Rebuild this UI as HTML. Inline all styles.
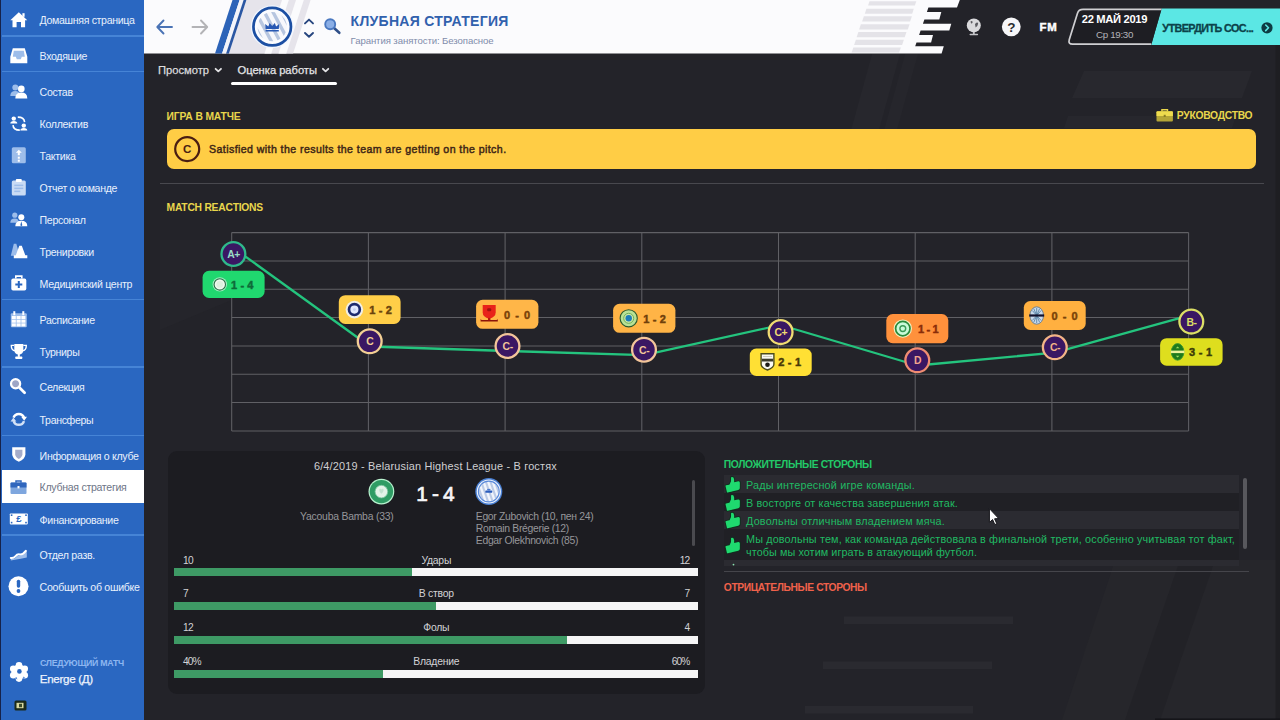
<!DOCTYPE html><html lang="ru"><head><meta charset="utf-8"><title>Клубная стратегия</title><style>html,body{margin:0;padding:0;background:#232329}
#r{position:relative;width:1280px;height:720px;overflow:hidden;background:#232329;font-family:'Liberation Sans',sans-serif}
.t{position:absolute;white-space:nowrap}
svg{position:absolute;left:0;top:0}</style></head><body><div id="r">
<svg width="1280" height="720" viewBox="0 0 1280 720"><polygon points="1084,71 1252,71 1242,98 1072,98" fill="#28282e"/><polygon points="1068,116 1236,116 1232,128 1064,128" fill="#27272d"/><polygon points="872,54 900,54 868,170 840,170" fill="#27272d"/><polygon points="905,54 918,54 886,170 873,170" fill="#26262c"/><rect x="844" y="616.5" width="169" height="7.5" fill="#2a2a30"/><rect x="823" y="661.5" width="169" height="7.5" fill="#2a2a30"/><rect x="805" y="706" width="168" height="7.5" fill="#2a2a30"/><polygon points="1115,560 1280,560 1280,720 1062,720" fill="#26262b"/><polygon points="1180,560 1215,560 1160,720 1125,720" fill="#222227"/><polygon points="160,240 232,240 232,300 160,330" fill="#25252b"/><rect x="1275.5" y="45" width="4.5" height="675" fill="#1e1e22"/><rect x="1155" y="718.4" width="125" height="1.6" fill="#151519"/></svg>
<div style="position:absolute;left:231px;top:81.7px;width:106px;height:3.1px;background:#ffffff;border-radius:1.5px"></div>
<svg width="1280" height="720" viewBox="0 0 1280 720"><polygon fill="#fbfbfd" points="144,0 959.8,0 957,7.5 928.4,7.5 926.9,12 941.3,12 939.3,19.4 924.4,19.4 922.9,23.8 951.3,23.8 949.3,30.4 920.6,30.4 919.1,35 933,35 931.1,42.5 916.5,42.5 915.2,46.3 943.8,46.3 941.6,53.5 144,53.5"/>
<polygon fill="#e4e3e8" points="869.5,1.3 916.3,1.3 914.9,5.6 868.1,5.6"/>
<polygon fill="#e4e3e8" points="866.4,8.8 913.8,8.8 912.2,13.7 864.8,13.7"/>
<polygon fill="#e4e3e8" points="863.9,16.3 911.9,16.3 910.1,21.4 862.1,21.4"/>
<polygon fill="#e4e3e8" points="860.9,24.3 909.6,24.3 907.8,29.4 859.1,29.4"/>
<polygon fill="#e4e3e8" points="858.4,31.9 906.5,31.9 904.7,37.2 856.6,37.2"/>
<polygon fill="#e4e3e8" points="855.9,39.7 903.9,39.7 902.1,45 854.1,45"/>
<polygon fill="#e4e3e8" points="853.4,47.5 900.9,47.5 899.1,52.6 851.6,52.6"/>
<polygon fill="#e6e4eb" points="246.3,0 310.6,0 293.1,53.5 228.8,53.5"/>
<polygon fill="#fbfbfd" points="282,0 288.8,0 271.3,53.5 264.5,53.5"/>
<polygon fill="#fbfbfd" points="296,0 303.8,0 286.3,53.5 278.5,53.5"/>
<polygon fill="#2c63b8" points="232.5,0 239.6,0 222.1,53.5 215.0,53.5"/>
<polygon fill="#f3f4fa" points="239.6,0 243.6,0 226.1,53.5 222.1,53.5"/>
<polygon fill="#2b57a3" points="243.6,0 246.4,0 228.9,53.5 226.1,53.5"/>
<g fill="none" stroke-width="1.9" stroke-linecap="round" stroke-linejoin="round"><path d="M172,27 H157.5 M163.5,20.5 L157.3,27 L163.5,33.5" stroke="#4a73b5"/><path d="M192.5,27 H207 M201,20.5 L207.2,27 L201,33.5" stroke="#b3b3b6"/></g>
<defs><clipPath id="lg"><circle cx="272.2" cy="26.7" r="14.6"/></clipPath></defs>
<circle cx="272.2" cy="26.7" r="21.4" fill="#f1f6ff"/>
<circle cx="272.2" cy="26.7" r="18" fill="#fbfcff"/>
<g clip-path="url(#lg)"><rect x="252.2" y="6.699999999999999" width="40" height="40" fill="#f7f8fc"/><polygon points="226.29999999999998,8.7 230.1,8.7 249.29999999999998,44.7 245.49999999999997,44.7" fill="#b7c6e0"/><polygon points="234.89999999999998,8.7 238.7,8.7 257.9,44.7 254.09999999999997,44.7" fill="#b7c6e0"/><polygon points="243.5,8.7 247.3,8.7 266.5,44.7 262.7,44.7" fill="#b7c6e0"/><polygon points="252.09999999999997,8.7 255.89999999999998,8.7 275.09999999999997,44.7 271.29999999999995,44.7" fill="#b7c6e0"/><polygon points="260.7,8.7 264.5,8.7 283.7,44.7 279.9,44.7" fill="#b7c6e0"/><polygon points="269.3,8.7 273.1,8.7 292.3,44.7 288.5,44.7" fill="#b7c6e0"/><polygon points="277.9,8.7 281.7,8.7 300.9,44.7 297.09999999999997,44.7" fill="#b7c6e0"/><polygon points="286.5,8.7 290.3,8.7 309.5,44.7 305.7,44.7" fill="#b7c6e0"/><polygon points="295.09999999999997,8.7 298.9,8.7 318.09999999999997,44.7 314.29999999999995,44.7" fill="#b7c6e0"/></g>
<circle cx="272.2" cy="26.7" r="18.75" fill="none" stroke="#1c4fa3" stroke-width="2.7"/>
<g fill="#2758b3"><path d="M265.59999999999997,29.099999999999998 L265.2,24.099999999999998 L268.3,26.5 L269.59999999999997,23.099999999999998 L272.2,26.099999999999998 L274.8,23.099999999999998 L276.09999999999997,26.5 L279.2,24.099999999999998 L278.8,29.099999999999998 Z"/><rect x="265.59999999999997" y="30.0" width="13.2" height="1.5"/></g>
<g fill="none" stroke="#27467f" stroke-width="1.9" stroke-linecap="round" stroke-linejoin="round"><path d="M305,23.4 L309,19.6 L313,23.4"/><path d="M305,33 L309,36.8 L313,33"/></g>
<path d="M334,28 L339.3,32.8" stroke="#2f4f88" stroke-width="2.6" stroke-linecap="round"/><circle cx="330.2" cy="24.3" r="5" fill="#8aaee6" stroke="#4a78c0" stroke-width="1.9"/>
<g fill="none" stroke="#e4e4e6" stroke-width="1.8" stroke-linecap="round" stroke-linejoin="round"><path d="M215.6,68.8 L218.3,71.4 L221,68.8"/><path d="M322.9,68.8 L325.6,71.4 L328.3,68.8"/></g>
<circle cx="973.8" cy="25.4" r="7" fill="#d9d9dc"/><path d="M970.5,21.5 q1.5,-1.2 2.2,0.6 q-0.4,2 -1.7,1.2 z M975,24 q2.5,-2.6 3.2,-0.6 q-0.6,3.2 -2.6,4 z" fill="#5a5a60"/><rect x="972.9" y="32" width="1.8" height="2.2" fill="#c4c4c8"/><rect x="969.5" y="33.8" width="8.6" height="1.5" rx="0.7" fill="#c4c4c8"/>
<circle cx="1011.3" cy="26.8" r="9.4" fill="#f6f6f8"/>
<path d="M1161.5,8.6 L1280,8.6 L1280,45 L1151.3,45 Z" fill="#5be7e4"/>
<path d="M1161.5,9.4 L1083,9.4 Q1078.7,9.4 1077.5,13.2 L1069.3,39.5 Q1067.9,44.2 1072.5,44.2 L1151.3,44.2 Z" fill="#1e1e23" stroke="none"/>
<path d="M1161.5,9.4 L1083,9.4 Q1078.7,9.4 1077.5,13.2 L1069.3,39.5 Q1067.9,44.2 1072.5,44.2 L1151.3,44.2" fill="none" stroke="#cfcfd2" stroke-width="1.7"/>
<circle cx="1267" cy="27.8" r="5.6" fill="#0d3b43"/><path d="M1265.7,25 L1268.5,27.8 L1265.7,30.6" fill="none" stroke="#5be7e4" stroke-width="1.6" stroke-linecap="round" stroke-linejoin="round"/></svg>
<span class="t" style="top:12.75px;font-size:14px;line-height:17px;color:#3161ad;font-weight:700;letter-spacing:0.288px;left:350.60px;">КЛУБНАЯ СТРАТЕГИЯ</span>
<span class="t" style="top:34.75px;font-size:9.6px;line-height:12px;color:#7f8cab;font-weight:400;letter-spacing:-0.089px;left:350.60px;">Гарантия занятости: Безопасное</span>
<span class="t" style="top:63.75px;font-size:11.2px;line-height:13px;color:#dcdcde;font-weight:400;letter-spacing:-0.012px;left:158.00px;-webkit-text-stroke:0.25px #dcdcde;">Просмотр</span>
<span class="t" style="top:63.75px;font-size:11.2px;line-height:13px;color:#e6e6e8;font-weight:400;letter-spacing:-0.028px;left:237.50px;-webkit-text-stroke:0.25px #e6e6e8;">Оценка работы</span>
<span class="t" style="top:19.75px;font-size:13.5px;line-height:16px;color:#2a2a30;font-weight:700;left:711.30px;width:600px;text-align:center;">?</span>
<span class="t" style="top:20.25px;font-size:11.4px;line-height:14px;color:#ffffff;font-weight:700;letter-spacing:0.873px;left:1039.40px;-webkit-text-stroke:0.5px #fff;">FM</span>
<span class="t" style="top:12.75px;font-size:11.2px;line-height:13px;color:#ffffff;font-weight:700;letter-spacing:-0.336px;left:1081.80px;">22 МАЙ 2019</span>
<span class="t" style="top:28.75px;font-size:9.8px;line-height:12px;color:#b4b4b8;font-weight:400;letter-spacing:-0.346px;left:1096.00px;">Ср 19:30</span>
<span class="t" style="top:21.75px;font-size:10.8px;line-height:13px;color:#0b424a;font-weight:700;letter-spacing:-0.586px;left:1162.30px;-webkit-text-stroke:0.3px #0b424a;">УТВЕРДИТЬ СОС...</span>
<div style="position:absolute;left:0;top:0;width:144px;height:720px;background:#2a67c1"></div>
<div style="position:absolute;left:0;top:0;width:1.2px;height:720px;background:#16224a"></div>
<div style="position:absolute;left:1.5px;top:35.25px;width:142.5px;height:1.5px;background:#4684d6"></div>
<div style="position:absolute;left:1.5px;top:70.75px;width:142.5px;height:1.5px;background:#4684d6"></div>
<div style="position:absolute;left:1.5px;top:298.75px;width:142.5px;height:1.5px;background:#4684d6"></div>
<div style="position:absolute;left:1.5px;top:366.25px;width:142.5px;height:1.5px;background:#4684d6"></div>
<div style="position:absolute;left:1.5px;top:434.95px;width:142.5px;height:1.5px;background:#4684d6"></div>
<div style="position:absolute;left:1.5px;top:534.25px;width:142.5px;height:1.5px;background:#4684d6"></div>
<div style="position:absolute;left:1.5px;top:470.3px;width:142.5px;height:33.2px;background:#ffffff"></div>
<svg width="1280" height="720" viewBox="0 0 1280 720"><g transform="translate(18.8,19.8)" fill="#ffffff" stroke="none"><path d="M-8.5,0.5 L0,-7.5 L8.5,0.5 L6.3,0.5 L6.3,7.5 L2.2,7.5 L2.2,2.3 L-2.2,2.3 L-2.2,7.5 L-6.3,7.5 L-6.3,0.5 Z"/><rect x="3.6" y="-6.6" width="2.2" height="3.6"/></g>
<g transform="translate(18.8,55.7)" fill="#ffffff" stroke="none"><path d="M-6,-7.5 L6,-7.5 L8.5,1 L8.5,7.5 L-8.5,7.5 L-8.5,1 Z"/><path d="M-5,-5 L5,-5 L6,1 L3,1 L2,3.5 L-2,3.5 L-3,1 L-6,1 Z" fill="#9dbdea"/></g>
<g transform="translate(18.8,91.4)" fill="#ffffff" stroke="none"><g fill="#9dbdea"><circle cx="-3.5" cy="-4" r="3"/><path d="M-8.5,4.5 Q-8.5,-0.5 -3.5,-0.5 Q1,-0.5 1,4.5 Z"/></g><circle cx="2.5" cy="-2.5" r="3.3"/><path d="M-3.5,7 Q-3.5,1.2 2.5,1.2 Q8.5,1.2 8.5,7 Z"/></g>
<g transform="translate(18.8,123.60000000000001)" fill="#ffffff" stroke="none"><circle cx="-5" cy="-5" r="2.2"/><path d="M-8.5,0 Q-8.5,-2.6 -5,-2.6 Q-1.5,-2.6 -1.5,0 Z"/><circle cx="5" cy="2" r="2.2"/><path d="M1.5,7 Q1.5,4.4 5,4.4 Q8.5,4.4 8.5,7 Z"/><path d="M-1,-6.5 Q5.5,-6.5 5.8,-1.5" fill="none" stroke="#fff" stroke-width="1.6"/><path d="M1,6.5 Q-5.5,6.5 -5.8,1.5" fill="none" stroke="#fff" stroke-width="1.6"/></g>
<g transform="translate(18.8,155.2)" fill="#ffffff" stroke="none"><rect x="-7" y="-8" width="14" height="16" rx="1.5" fill="#9dbdea"/><path d="M0,-5.5 L3,-2.5 L1,-2.5 L1,0 L-1,0 L-1,-2.5 L-3,-2.5 Z"/><rect x="-1" y="1.5" width="2" height="2"/><rect x="-1" y="4.5" width="2" height="2"/></g>
<g transform="translate(18.8,187.6)" fill="#ffffff" stroke="none"><rect x="-7" y="-7" width="14" height="15" rx="1.5" fill="#c9dbf4"/><rect x="-3" y="-8.5" width="6" height="3" rx="1"/><g fill="#9dbdea"><rect x="-4.5" y="-3" width="9" height="1.5"/><rect x="-4.5" y="0" width="9" height="1.5"/><rect x="-4.5" y="3" width="6" height="1.5"/></g></g>
<g transform="translate(18.8,219.7)" fill="#ffffff" stroke="none"><g fill="#9dbdea"><circle cx="-4" cy="-4.5" r="2.6"/><path d="M-8.5,3 Q-8.5,-1.3 -4,-1.3 Q0,-1.3 0,3 Z"/></g><circle cx="2.5" cy="-2.5" r="3"/><path d="M-3.5,6.5 Q-3.5,1 2.5,1 Q8.5,1 8.5,6.5 Z"/><path d="M2.5,1.5 L3.5,5.5 L2.5,6.5 L1.5,5.5 Z" fill="#2a67c1"/></g>
<g transform="translate(18.8,251.7)" fill="#ffffff" stroke="none"><path d="M-5,-8 L-2.5,-8 L1,4 L-8,4 Z" fill="#9dbdea"/><path d="M0.5,-6 L3,-6 L6.5,3.5 L8.5,3.5 L8.5,6.5 L-5,6.5 L-5,3.5 L-3,3.5 Z"/></g>
<g transform="translate(18.8,283.59999999999997)" fill="#ffffff" stroke="none"><path d="M-3,-5 L-3,-7.5 L3,-7.5 L3,-5" fill="none" stroke="#fff" stroke-width="1.6"/><rect x="-7.5" y="-5" width="15" height="12" rx="1.8"/><path d="M-1,-2.5 H1 V0 H3.5 V2 H1 V4.5 H-1 V2 H-3.5 V0 H-1 Z" fill="#2a67c1"/></g>
<g transform="translate(18.8,319.2)" fill="#ffffff" stroke="none"><rect x="-8" y="-6" width="16" height="14" rx="1" fill="#9dbdea"/><rect x="-5.5" y="-8" width="2" height="4"/><rect x="3.5" y="-8" width="2" height="4"/><rect x="-7.0" y="-3.2" width="4" height="3"/><rect x="-2.2" y="-3.2" width="4" height="3"/><rect x="2.6" y="-3.2" width="4" height="3"/><rect x="-7.0" y="0.5" width="4" height="3"/><rect x="-2.2" y="0.5" width="4" height="3"/><rect x="2.6" y="0.5" width="4" height="3"/><rect x="-7.0" y="4.2" width="4" height="3"/><rect x="-2.2" y="4.2" width="4" height="3"/><rect x="2.6" y="4.2" width="4" height="3"/></g>
<g transform="translate(18.8,351.4)" fill="#ffffff" stroke="none"><path d="M-4.5,-7.5 H4.5 V-2 Q4.5,3 0,3 Q-4.5,3 -4.5,-2 Z"/><path d="M-4.5,-6 H-7.5 Q-7.5,-1 -3.5,-0.5" fill="none" stroke="#fff" stroke-width="1.4"/><path d="M4.5,-6 H7.5 Q7.5,-1 3.5,-0.5" fill="none" stroke="#fff" stroke-width="1.4"/><rect x="-1" y="2.5" width="2" height="3"/><rect x="-3.5" y="5.2" width="7" height="2.3" rx="0.6"/></g>
<g transform="translate(18.8,386.7)" fill="#ffffff" stroke="none"><circle cx="-3.2" cy="-3" r="4.6" fill="#9ea6c6" stroke="#fff" stroke-width="2.2"/><path d="M0.8,1 L5.8,6" stroke="#fff" stroke-width="2.8" stroke-linecap="round"/></g>
<g transform="translate(18.8,419.2)" fill="#ffffff" stroke="none"><path d="M-5.2,-1.6 A5.5,5.5 0 0 1 5.2,-1.6" fill="none" stroke="#fff" stroke-width="2.5"/><path d="M2.4,-2.4 L8.2,-2.4 L5.4,1.6 Z"/><path d="M5.2,1.9 A5.5,5.5 0 0 1 -5.2,1.9" fill="none" stroke="#d3e1f6" stroke-width="2.5"/><path d="M-2.4,2.4 L-8.2,2.4 L-5.4,-1.6 Z" fill="#d3e1f6"/></g>
<g transform="translate(18.8,455.2)" fill="#ffffff" stroke="none"><path d="M-6.6,-8 H6.6 V-1 Q6.6,3.5 0,6.5 Q-6.6,3.5 -6.6,-1 Z"/><path d="M-3.6,-5.5 H3.6 V-1 Q3.6,1.8 0,3.8 Q-3.6,1.8 -3.6,-1 Z" fill="#a4acca"/></g>
<g transform="translate(18.5,487.0)" fill="#2f66bd" stroke="none"><path d="M-2.5,-4 L-2.5,-6 L2.5,-6 L2.5,-4" fill="none" stroke="#2f66bd" stroke-width="1.5"/><rect x="-8" y="-4.5" width="16" height="11.5" rx="1" fill="#7ea6de"/><path d="M-8,-3.5 Q-8,-4.5 -7,-4.5 H7 Q8,-4.5 8,-3.5 V0.5 H-8 Z"/><rect x="-1" y="-1" width="2" height="2.4" fill="#fff"/></g>
<g transform="translate(18.8,518.9000000000001)" fill="#ffffff" stroke="none"><rect x="-9" y="-5.5" width="18" height="11" rx="0.8"/><g fill="#2a67c1"><rect x="-8" y="-4.5" width="1.6" height="1.6"/><rect x="6.4" y="-4.5" width="1.6" height="1.6"/><rect x="-8" y="2.9" width="1.6" height="1.6"/><rect x="6.4" y="2.9" width="1.6" height="1.6"/></g><text x="0" y="3.4" font-size="9.5" font-weight="700" text-anchor="middle" fill="#2a67c1" font-family="Liberation Sans, sans-serif">£</text></g>
<g transform="translate(18.8,554.4000000000001)" fill="#ffffff" stroke="none"><path d="M-8,4 L-4,4 Q-2,1 1,1 Q4,1 6,-3 L8,-4 L8,3 Q4,4 -8,6 Z" fill="#9dbdea"/><path d="M-8,3.5 Q-5,3.8 -3.5,2 Q-1.5,-0.5 1,0 Q4,0.5 7,-3.5" fill="none" stroke="#fff" stroke-width="2" stroke-linecap="round"/></g>
<g transform="translate(18.5,586.2)" fill="#ffffff" stroke="none"><circle r="10"/><rect x="-1.7" y="-6.5" width="3.4" height="8" rx="1.6" fill="#2a67c1"/><circle cy="4.8" r="1.9" fill="#2a67c1"/></g>
<g transform="translate(19,672)" fill="#ffffff" stroke="none"><circle r="7.6"/><circle cx="0.00" cy="-6.60" r="3.3"/><circle cx="5.72" cy="-3.30" r="3.3"/><circle cx="5.72" cy="3.30" r="3.3"/><circle cx="0.00" cy="6.60" r="3.3"/><circle cx="-5.72" cy="3.30" r="3.3"/><circle cx="-5.72" cy="-3.30" r="3.3"/><circle cx="0.4" cy="-0.6" r="2.3" fill="#2a67c1"/><path d="M-4.6,6.2 L-2.4,5 L-1.6,7.4 Z M3.4,6.6 L4.6,4.6 L6.2,6 Z" fill="#5f8fd6"/></g>
<rect x="14.5" y="700.5" width="12" height="10" rx="1.5" fill="#1b2a1b"/><rect x="16.5" y="702.8" width="7" height="5.4" fill="#d8d9a0"/><rect x="19" y="703.8" width="3" height="3.4" fill="#3b4a2a"/></svg>
<span class="t" style="top:13.75px;font-size:10.6px;line-height:13px;color:#e8f0fc;font-weight:400;letter-spacing:-0.341px;left:39.60px;">Домашняя страница</span>
<span class="t" style="top:49.75px;font-size:10.6px;line-height:13px;color:#e8f0fc;font-weight:400;letter-spacing:-0.355px;left:39.60px;">Входящие</span>
<span class="t" style="top:85.75px;font-size:10.6px;line-height:13px;color:#e8f0fc;font-weight:400;letter-spacing:-0.331px;left:39.60px;">Состав</span>
<span class="t" style="top:117.75px;font-size:10.6px;line-height:13px;color:#e8f0fc;font-weight:400;letter-spacing:-0.322px;left:39.60px;">Коллектив</span>
<span class="t" style="top:149.75px;font-size:10.6px;line-height:13px;color:#e8f0fc;font-weight:400;letter-spacing:-0.309px;left:39.60px;">Тактика</span>
<span class="t" style="top:181.75px;font-size:10.6px;line-height:13px;color:#e8f0fc;font-weight:400;letter-spacing:-0.335px;left:39.60px;">Отчет о команде</span>
<span class="t" style="top:213.75px;font-size:10.6px;line-height:13px;color:#e8f0fc;font-weight:400;letter-spacing:-0.344px;left:39.60px;">Персонал</span>
<span class="t" style="top:245.75px;font-size:10.6px;line-height:13px;color:#e8f0fc;font-weight:400;letter-spacing:-0.325px;left:39.60px;">Тренировки</span>
<span class="t" style="top:277.75px;font-size:10.6px;line-height:13px;color:#e8f0fc;font-weight:400;letter-spacing:-0.305px;left:39.60px;">Медицинский центр</span>
<span class="t" style="top:313.75px;font-size:10.6px;line-height:13px;color:#e8f0fc;font-weight:400;letter-spacing:-0.331px;left:39.60px;">Расписание</span>
<span class="t" style="top:345.75px;font-size:10.6px;line-height:13px;color:#e8f0fc;font-weight:400;letter-spacing:-0.342px;left:39.60px;">Турниры</span>
<span class="t" style="top:380.75px;font-size:10.6px;line-height:13px;color:#e8f0fc;font-weight:400;letter-spacing:-0.337px;left:39.60px;">Селекция</span>
<span class="t" style="top:413.75px;font-size:10.6px;line-height:13px;color:#e8f0fc;font-weight:400;letter-spacing:-0.358px;left:39.60px;">Трансферы</span>
<span class="t" style="top:449.75px;font-size:10.6px;line-height:13px;color:#e8f0fc;font-weight:400;letter-spacing:-0.325px;left:39.60px;">Информация о клубе</span>
<span class="t" style="top:480.75px;font-size:10.6px;line-height:13px;color:#6e7587;font-weight:400;letter-spacing:-0.307px;left:39.60px;">Клубная стратегия</span>
<span class="t" style="top:513.75px;font-size:10.6px;line-height:13px;color:#e8f0fc;font-weight:400;letter-spacing:-0.338px;left:39.60px;">Финансирование</span>
<span class="t" style="top:548.75px;font-size:10.6px;line-height:13px;color:#e8f0fc;font-weight:400;letter-spacing:-0.302px;left:39.60px;">Отдел разв.</span>
<span class="t" style="top:580.75px;font-size:10.6px;line-height:13px;color:#e8f0fc;font-weight:400;letter-spacing:-0.299px;left:39.60px;">Сообщить об ошибке</span>
<span class="t" style="top:657.75px;font-size:8.8px;line-height:11px;color:#8db6f0;font-weight:700;letter-spacing:-0.282px;left:40.00px;">СЛЕДУЮЩИЙ МАТЧ</span>
<span class="t" style="top:672.25px;font-size:11.6px;line-height:14px;color:#eef4fd;font-weight:400;letter-spacing:-0.319px;left:39.80px;-webkit-text-stroke:0.25px #eef4fd;">Energe (Д)</span>
<div style="position:absolute;left:166.6px;top:128.5px;width:1089px;height:40.1px;background:#ffcd45;border-radius:7px"></div>
<div style="position:absolute;left:159.6px;top:183.2px;width:1104px;height:1.2px;background:#48484e"></div>
<svg width="1280" height="720" viewBox="0 0 1280 720"><g transform="translate(1164.7,115.4)"><path d="M-2.8,-3.8 V-5.6 H2.8 V-3.8" fill="none" stroke="#e9d64c" stroke-width="1.4"/><rect x="-8.2" y="-4.2" width="16.4" height="10.2" rx="1" fill="#b5a637"/><path d="M-8.2,-3.2 Q-8.2,-4.2 -7.2,-4.2 H7.2 Q8.2,-4.2 8.2,-3.2 V0.6 H-8.2 Z" fill="#efdc4e"/><rect x="-1" y="-0.6" width="2" height="2.2" fill="#8c7f22"/></g>
<circle cx="187.2" cy="149.1" r="12" fill="none" stroke="#4a1e12" stroke-width="2.2"/>
<g stroke="#606065" stroke-width="1.05"><line x1="231.70" y1="232.60" x2="231.70" y2="430.91"/><line x1="231.70" y1="232.60" x2="1188.60" y2="232.60"/><line x1="368.40" y1="232.60" x2="368.40" y2="430.91"/><line x1="231.70" y1="260.93" x2="1188.60" y2="260.93"/><line x1="505.10" y1="232.60" x2="505.10" y2="430.91"/><line x1="231.70" y1="289.26" x2="1188.60" y2="289.26"/><line x1="641.80" y1="232.60" x2="641.80" y2="430.91"/><line x1="231.70" y1="317.59" x2="1188.60" y2="317.59"/><line x1="778.50" y1="232.60" x2="778.50" y2="430.91"/><line x1="231.70" y1="345.92" x2="1188.60" y2="345.92"/><line x1="915.20" y1="232.60" x2="915.20" y2="430.91"/><line x1="231.70" y1="374.25" x2="1188.60" y2="374.25"/><line x1="1051.90" y1="232.60" x2="1051.90" y2="430.91"/><line x1="231.70" y1="402.58" x2="1188.60" y2="402.58"/><line x1="1188.60" y1="232.60" x2="1188.60" y2="430.91"/><line x1="231.70" y1="430.91" x2="1188.60" y2="430.91"/></g>
<polyline fill="none" stroke="#24c47e" stroke-width="2.3" stroke-linejoin="round" points="233,247.6 370,346.5 507.5,351 644,355.1 780.6,325 917.3,365.5 1054.8,352.6 1191.3,314.8"/>
<rect x="202.6" y="270.8" width="62.0" height="27.2" rx="6.5" fill="#20d86f"/>
<g transform="translate(219.8,284.4)"><circle r="7.2" fill="#9cf0bf"/><circle r="5.7" fill="#eef8ee" stroke="#2c6e48" stroke-width="1.1"/><circle r="3.4" fill="#ddf0df"/></g>
<rect x="338.8" y="295.2" width="61.8" height="28.8" rx="6.5" fill="#ffce48"/>
<g transform="translate(354.4,309.6)"><circle r="8.8" fill="#f1efe6"/><circle r="5.4" fill="#e2e9ff" stroke="#1d2a6e" stroke-width="2.7"/><circle r="1.4" fill="#c4cff0"/></g>
<rect x="476.1" y="299.8" width="62.3" height="29.0" rx="6.5" fill="#ffb648"/>
<g transform="translate(489.2,314.3)"><path d="M-6.5,-9.3 H6.5 V-2 Q6.5,3 0,4.4 Q-6.5,3 -6.5,-2 Z" fill="#e8221a"/><rect x="-2" y="-6" width="4" height="3" rx="1" fill="#a01210"/><path d="M-8.6,4.4 Q-8.4,5.6 -7,5.6 H7 Q8.4,5.6 8.6,4.4 L8.6,7.3 H-8.6 Z" fill="#8c1408"/><rect x="-1.2" y="3.6" width="2.4" height="2.4" fill="#b41a10"/></g>
<rect x="613.1" y="303.8" width="62.3" height="29.0" rx="6.5" fill="#ffb446"/>
<g transform="translate(628.7,318.3)"><circle r="8.6" fill="#b9e296" stroke="#2b5a2c" stroke-width="1.1"/><circle r="5" fill="#cdeaa4" stroke="#6fae5c" stroke-width="1"/><circle r="3.2" fill="#1c7cba"/></g>
<rect x="749.8" y="348.5" width="61.9" height="27.4" rx="6.5" fill="#ffe034"/>
<g transform="translate(767.5,362.2)"><path d="M-6.4,-8.4 H6.4 V2 Q6.4,5.4 0,7.8 Q-6.4,5.4 -6.4,2 Z" fill="#fafaf4" stroke="#4c4c1c" stroke-width="1.4"/><rect x="-5.6" y="-3.5" width="11.2" height="2.8" fill="#3c3c2c"/><rect x="-4.6" y="-6.2" width="9.2" height="0.9" fill="#c8c8b8"/><circle cy="2.6" r="2.3" fill="#1c1c18"/></g>
<rect x="886.3" y="314" width="62.0" height="29.2" rx="6.5" fill="#ff913c"/>
<g transform="translate(902.8,328.6)"><circle r="9.2" fill="#f3efc0"/><circle r="7.2" fill="#c9fad9" stroke="#2a8a3c" stroke-width="1.7"/><circle r="2.9" fill="none" stroke="#3a9a58" stroke-width="1.4"/></g>
<rect x="1023.8" y="301" width="61.9" height="29.0" rx="6.5" fill="#ffb040"/>
<g transform="translate(1036.7,315.5)"><ellipse rx="6.8" ry="8.7" fill="#c9d9ec" stroke="#6a7a8a" stroke-width="0.9"/><path d="M-4.4,-5 L4.4,5 M4.4,-5 L-4.4,5 M0,-7.6 V7.6 M-3,-7 L3,7 M3,-7 L-3,7" stroke="#5a86a8" stroke-width="0.9"/><rect x="-7.5" y="-1.1" width="15" height="2.2" fill="#12122e"/></g>
<rect x="1160.1" y="338.2" width="62.5" height="27.5" rx="6.5" fill="#dede1e"/>
<g transform="translate(1177.6,351.9)"><ellipse rx="6.3" ry="8.3" fill="#1f7a1c" stroke="#3b9a2c" stroke-width="0.9"/><path d="M-1.8,-3.6 L0,-5.4 L1.8,-3.6 Z M-1.8,3.8 L0,5.6 L1.8,3.8 Z" fill="#9be060"/><rect x="-6.8" y="-1.3" width="13.6" height="2.5" fill="#eef29a"/></g>
<circle cx="233.4" cy="254" r="11.9" fill="#3a1763" stroke="#2fb98b" stroke-width="2.3"/>
<circle cx="369.7" cy="341.3" r="11.9" fill="#3a1763" stroke="#f3cf94" stroke-width="2.3"/>
<circle cx="507.5" cy="346" r="11.9" fill="#3a1763" stroke="#f3c59a" stroke-width="2.3"/>
<circle cx="644" cy="349.7" r="11.9" fill="#3a1763" stroke="#f3c59a" stroke-width="2.3"/>
<circle cx="780.6" cy="332.1" r="11.9" fill="#3a1763" stroke="#f0dc72" stroke-width="2.3"/>
<circle cx="917.3" cy="360.3" r="11.9" fill="#3a1763" stroke="#f08c72" stroke-width="2.3"/>
<circle cx="1054.8" cy="347.3" r="11.9" fill="#3a1763" stroke="#f3b487" stroke-width="2.3"/>
<circle cx="1191.3" cy="321.6" r="11.9" fill="#3a1763" stroke="#dcdf66" stroke-width="2.3"/></svg>
<span class="t" style="top:110.75px;font-size:10.3px;line-height:12px;color:#e9d64c;font-weight:700;letter-spacing:-0.142px;left:166.60px;">ИГРА В МАТЧЕ</span>
<span class="t" style="top:109.75px;font-size:10.3px;line-height:12px;color:#e9d64c;font-weight:700;letter-spacing:-0.271px;left:1176.80px;">РУКОВОДСТВО</span>
<span class="t" style="top:142.25px;font-size:11.6px;line-height:14px;color:#4a1e12;font-weight:700;left:-112.80px;width:600px;text-align:center;">C</span>
<span class="t" style="top:142.75px;font-size:10.6px;line-height:13px;color:#3e2616;font-weight:400;letter-spacing:0.417px;left:209.00px;-webkit-text-stroke:0.45px #3e2616;">Satisfied with the results the team are getting on the pitch.</span>
<span class="t" style="top:201.75px;font-size:10.3px;line-height:12px;color:#e9d64c;font-weight:700;letter-spacing:-0.241px;left:166.60px;">MATCH REACTIONS</span>
<span class="t" style="top:278.75px;font-size:11px;line-height:13px;color:#0e6a38;font-weight:700;letter-spacing:0.117px;left:231.00px;-webkit-text-stroke:0.45px #0e6a38;">1 - 4</span>
<span class="t" style="top:303.75px;font-size:11px;line-height:13px;color:#6a430c;font-weight:700;letter-spacing:0.177px;left:369.20px;-webkit-text-stroke:0.45px #6a430c;">1 - 2</span>
<span class="t" style="top:308.75px;font-size:11px;line-height:13px;color:#7a4208;font-weight:700;letter-spacing:1.057px;left:504.00px;-webkit-text-stroke:0.45px #7a4208;">0 - 0</span>
<span class="t" style="top:312.75px;font-size:11px;line-height:13px;color:#70400a;font-weight:700;letter-spacing:0.177px;left:643.20px;-webkit-text-stroke:0.45px #70400a;">1 - 2</span>
<span class="t" style="top:355.75px;font-size:11px;line-height:13px;color:#4a3a08;font-weight:700;letter-spacing:0.177px;left:778.30px;-webkit-text-stroke:0.45px #4a3a08;">2 - 1</span>
<span class="t" style="top:322.75px;font-size:11px;line-height:13px;color:#8a2c08;font-weight:700;letter-spacing:-0.363px;left:918.10px;-webkit-text-stroke:0.45px #8a2c08;">1 - 1</span>
<span class="t" style="top:309.75px;font-size:11px;line-height:13px;color:#7a4208;font-weight:700;letter-spacing:1.077px;left:1051.40px;-webkit-text-stroke:0.45px #7a4208;">0 - 0</span>
<span class="t" style="top:345.75px;font-size:11px;line-height:13px;color:#3e3e08;font-weight:700;letter-spacing:0.297px;left:1188.90px;-webkit-text-stroke:0.45px #3e3e08;">3 - 1</span>
<span class="t" style="top:248.75px;font-size:10.4px;line-height:12px;color:#9adcc6;font-weight:700;left:-66.40px;width:600px;text-align:center;letter-spacing:-0.4px;">A+</span>
<span class="t" style="top:335.75px;font-size:10.4px;line-height:12px;color:#f3cf94;font-weight:700;left:69.90px;width:600px;text-align:center;letter-spacing:-0.4px;">C</span>
<span class="t" style="top:340.75px;font-size:10.4px;line-height:12px;color:#f3c59a;font-weight:700;left:207.70px;width:600px;text-align:center;letter-spacing:-0.4px;">C-</span>
<span class="t" style="top:344.75px;font-size:10.4px;line-height:12px;color:#f3c59a;font-weight:700;left:344.20px;width:600px;text-align:center;letter-spacing:-0.4px;">C-</span>
<span class="t" style="top:326.75px;font-size:10.4px;line-height:12px;color:#f0dc72;font-weight:700;left:480.80px;width:600px;text-align:center;letter-spacing:-0.4px;">C+</span>
<span class="t" style="top:354.75px;font-size:10.4px;line-height:12px;color:#f3a58e;font-weight:700;left:617.50px;width:600px;text-align:center;letter-spacing:-0.4px;">D</span>
<span class="t" style="top:341.75px;font-size:10.4px;line-height:12px;color:#f3b487;font-weight:700;left:755.00px;width:600px;text-align:center;letter-spacing:-0.4px;">C-</span>
<span class="t" style="top:316.75px;font-size:10.4px;line-height:12px;color:#dcdf66;font-weight:700;left:891.50px;width:600px;text-align:center;letter-spacing:-0.4px;">B-</span>
<div style="position:absolute;left:167.6px;top:450.5px;width:537.6px;height:243.8px;background:#1c1c21;border-radius:9px"></div>
<div style="position:absolute;left:691.6px;top:480px;width:3.2px;height:66px;background:#4a4a4f;border-radius:1.6px"></div>
<div style="position:absolute;left:173.6px;top:568.1px;width:524.5px;height:8.2px;background:#f5f5f6"></div>
<div style="position:absolute;left:173.6px;top:568.1px;width:238.4px;height:8.2px;background:#3e9a65"></div>
<div style="position:absolute;left:173.6px;top:602.1px;width:524.5px;height:8.2px;background:#f5f5f6"></div>
<div style="position:absolute;left:173.6px;top:602.1px;width:262.2px;height:8.2px;background:#3e9a65"></div>
<div style="position:absolute;left:173.6px;top:635.8px;width:524.5px;height:8.2px;background:#f5f5f6"></div>
<div style="position:absolute;left:173.6px;top:635.8px;width:393.4px;height:8.2px;background:#3e9a65"></div>
<div style="position:absolute;left:173.6px;top:669.5px;width:524.5px;height:8.2px;background:#f5f5f6"></div>
<div style="position:absolute;left:173.6px;top:669.5px;width:209.8px;height:8.2px;background:#3e9a65"></div>
<div style="position:absolute;left:723.8px;top:475.2px;width:515.4px;height:17.8px;background:#2b2b31"></div>
<div style="position:absolute;left:723.8px;top:493px;width:515.4px;height:18.2px;background:#202025"></div>
<div style="position:absolute;left:723.8px;top:511.2px;width:515.4px;height:17.7px;background:#2b2b31"></div>
<div style="position:absolute;left:723.8px;top:528.9px;width:515.4px;height:30.9px;background:#202025"></div>
<div style="position:absolute;left:723.8px;top:559.8px;width:515.4px;height:5.8px;background:#2b2b31"></div>
<div style="position:absolute;left:1242.8px;top:477.8px;width:4px;height:71px;background:#58585d;border-radius:2px"></div>
<div style="position:absolute;left:723.8px;top:570.5px;width:525.4px;height:1.2px;background:#45454b"></div>
<svg width="1280" height="720" viewBox="0 0 1280 720"><g transform="translate(381.4,491.6)"><circle r="12.9" fill="#b9f3d0"/><circle r="11.7" fill="#2f9c64"/><circle r="6.3" fill="#e3f3e8"/><circle r="6.3" fill="none" stroke="#7cc6a0" stroke-width="0.8"/><path d="M-2.2,-1.6 Q-2.2,-2.8 -1.1,-2.8 Q0,-2.8 0,-1.8 Q0,-2.8 1.1,-2.8 Q2.2,-2.8 2.2,-1.6 Q2.2,0.4 0,2.2 Q-2.2,0.4 -2.2,-1.6 Z" fill="#c3e2d0"/></g>
<defs><clipPath id="lg2"><circle r="9.9"/></clipPath></defs><g transform="translate(488.8,491.5)"><circle r="13.5" fill="#4a80d4"/><circle r="12.1" fill="#eef3fc"/><g clip-path="url(#lg2)"><rect x="-12" y="-12" width="24" height="24" fill="#f1f5fc"/><polygon points="-27.8,-12 -25.6,-12 -17.4,12 -19.6,12" fill="#bccbe6"/><polygon points="-23.2,-12 -21.0,-12 -12.799999999999999,12 -14.999999999999998,12" fill="#bccbe6"/><polygon points="-18.599999999999998,-12 -16.4,-12 -8.2,12 -10.399999999999999,12" fill="#bccbe6"/><polygon points="-14.0,-12 -11.799999999999999,-12 -3.5999999999999996,12 -5.799999999999999,12" fill="#bccbe6"/><polygon points="-9.399999999999999,-12 -7.199999999999999,-12 1.0,12 -1.1999999999999997,12" fill="#bccbe6"/><polygon points="-4.8,-12 -2.6,-12 5.6,12 3.4,12" fill="#bccbe6"/><polygon points="-0.20000000000000018,-12 1.9999999999999996,-12 10.2,12 8.0,12" fill="#bccbe6"/><polygon points="4.3999999999999995,-12 6.6,-12 14.799999999999999,12 12.6,12" fill="#bccbe6"/><polygon points="9.0,-12 11.2,-12 19.4,12 17.2,12" fill="#bccbe6"/><polygon points="13.599999999999998,-12 15.799999999999999,-12 24.0,12 21.799999999999997,12" fill="#bccbe6"/><polygon points="18.2,-12 20.4,-12 28.6,12 26.4,12" fill="#bccbe6"/></g><circle r="10.4" fill="none" stroke="#5a8ada" stroke-width="1.1"/><rect x="-3.4" y="-0.9" width="6.8" height="2.2" rx="0.6" fill="#2a5cbc"/><rect x="-1.6" y="-2.6" width="3.2" height="1.4" fill="#4a7ad0"/></g>
<g transform="translate(732.5,484.3) rotate(-13)"><g fill="#10301f" stroke="#10301f" stroke-width="1.8" stroke-linejoin="round"><rect x="-7.2" y="-0.4" width="4.6" height="7.4" rx="0.7"/><path d="M-3.4,0.2 L-0.8,-3.2 L0.2,-7.2 Q2.9,-7.6 2.7,-4.6 L2.1,-1.6 L6.4,-1.6 Q7.9,-1.4 7.5,0.2 L6.2,5.6 Q5.8,6.9 4.3,6.9 L-3.4,6.9 Z"/></g><g fill="#1fd96f"><rect x="-7.2" y="-0.4" width="4.6" height="7.4" rx="0.7"/><path d="M-3.4,0.2 L-0.8,-3.2 L0.2,-7.2 Q2.9,-7.6 2.7,-4.6 L2.1,-1.6 L6.4,-1.6 Q7.9,-1.4 7.5,0.2 L6.2,5.6 Q5.8,6.9 4.3,6.9 L-3.4,6.9 Z"/></g></g>
<g transform="translate(732.5,502.4) rotate(-13)"><g fill="#10301f" stroke="#10301f" stroke-width="1.8" stroke-linejoin="round"><rect x="-7.2" y="-0.4" width="4.6" height="7.4" rx="0.7"/><path d="M-3.4,0.2 L-0.8,-3.2 L0.2,-7.2 Q2.9,-7.6 2.7,-4.6 L2.1,-1.6 L6.4,-1.6 Q7.9,-1.4 7.5,0.2 L6.2,5.6 Q5.8,6.9 4.3,6.9 L-3.4,6.9 Z"/></g><g fill="#1fd96f"><rect x="-7.2" y="-0.4" width="4.6" height="7.4" rx="0.7"/><path d="M-3.4,0.2 L-0.8,-3.2 L0.2,-7.2 Q2.9,-7.6 2.7,-4.6 L2.1,-1.6 L6.4,-1.6 Q7.9,-1.4 7.5,0.2 L6.2,5.6 Q5.8,6.9 4.3,6.9 L-3.4,6.9 Z"/></g></g>
<g transform="translate(732.5,520) rotate(-13)"><g fill="#10301f" stroke="#10301f" stroke-width="1.8" stroke-linejoin="round"><rect x="-7.2" y="-0.4" width="4.6" height="7.4" rx="0.7"/><path d="M-3.4,0.2 L-0.8,-3.2 L0.2,-7.2 Q2.9,-7.6 2.7,-4.6 L2.1,-1.6 L6.4,-1.6 Q7.9,-1.4 7.5,0.2 L6.2,5.6 Q5.8,6.9 4.3,6.9 L-3.4,6.9 Z"/></g><g fill="#1fd96f"><rect x="-7.2" y="-0.4" width="4.6" height="7.4" rx="0.7"/><path d="M-3.4,0.2 L-0.8,-3.2 L0.2,-7.2 Q2.9,-7.6 2.7,-4.6 L2.1,-1.6 L6.4,-1.6 Q7.9,-1.4 7.5,0.2 L6.2,5.6 Q5.8,6.9 4.3,6.9 L-3.4,6.9 Z"/></g></g>
<g transform="translate(732.5,545) rotate(-13)"><g fill="#10301f" stroke="#10301f" stroke-width="1.8" stroke-linejoin="round"><rect x="-7.2" y="-0.4" width="4.6" height="7.4" rx="0.7"/><path d="M-3.4,0.2 L-0.8,-3.2 L0.2,-7.2 Q2.9,-7.6 2.7,-4.6 L2.1,-1.6 L6.4,-1.6 Q7.9,-1.4 7.5,0.2 L6.2,5.6 Q5.8,6.9 4.3,6.9 L-3.4,6.9 Z"/></g><g fill="#1fd96f"><rect x="-7.2" y="-0.4" width="4.6" height="7.4" rx="0.7"/><path d="M-3.4,0.2 L-0.8,-3.2 L0.2,-7.2 Q2.9,-7.6 2.7,-4.6 L2.1,-1.6 L6.4,-1.6 Q7.9,-1.4 7.5,0.2 L6.2,5.6 Q5.8,6.9 4.3,6.9 L-3.4,6.9 Z"/></g></g>
<circle cx="733.5" cy="564.6" r="0.9" fill="#8adfae"/>
<path d="M989.4,508.6 L989.4,522.4 L992.6,519.6 L994.8,524.6 L996.8,523.7 L994.6,518.8 L998.8,518.6 Z" fill="#ffffff" stroke="#15151a" stroke-width="1" stroke-linejoin="round"/></svg>
<span class="t" style="top:459.75px;font-size:10.9px;line-height:13px;color:#cfcfd2;font-weight:400;letter-spacing:0.183px;left:313.90px;">6/4/2019 - Belarusian Highest League - В гостях</span>
<span class="t" style="top:481.25px;font-size:20.8px;line-height:25px;color:#f6f6f8;font-weight:400;letter-spacing:-0.805px;left:416.30px;-webkit-text-stroke:0.7px #f6f6f8;">1 - 4</span>
<span class="t" style="top:510.75px;font-size:10.4px;line-height:12px;color:#96969a;font-weight:400;letter-spacing:-0.223px;right:886.50px;">Yacouba Bamba (33)</span>
<span class="t" style="top:510.75px;font-size:10.4px;line-height:12px;color:#96969a;font-weight:400;letter-spacing:-0.317px;left:475.80px;">Egor Zubovich (10, пен 24)</span>
<span class="t" style="top:522.75px;font-size:10.4px;line-height:12px;color:#96969a;font-weight:400;letter-spacing:-0.310px;left:475.80px;">Romain Brégerie (12)</span>
<span class="t" style="top:534.75px;font-size:10.4px;line-height:12px;color:#96969a;font-weight:400;letter-spacing:-0.310px;left:475.80px;">Edgar Olekhnovich (85)</span>
<span class="t" style="top:554.75px;font-size:10.2px;line-height:12px;color:#d2d2d5;font-weight:400;letter-spacing:-0.778px;left:183.00px;">10</span>
<span class="t" style="top:554.75px;font-size:10.4px;line-height:12px;color:#d2d2d5;font-weight:400;left:136.30px;width:600px;text-align:center;letter-spacing:-0.25px;">Удары</span>
<span class="t" style="top:554.75px;font-size:10.2px;line-height:12px;color:#d2d2d5;font-weight:400;letter-spacing:-0.778px;right:590.60px;">12</span>
<span class="t" style="top:587.75px;font-size:10.2px;line-height:12px;color:#d2d2d5;font-weight:400;letter-spacing:-0.778px;left:183.00px;">7</span>
<span class="t" style="top:587.75px;font-size:10.4px;line-height:12px;color:#d2d2d5;font-weight:400;left:136.30px;width:600px;text-align:center;letter-spacing:-0.25px;">В створ</span>
<span class="t" style="top:587.75px;font-size:10.2px;line-height:12px;color:#d2d2d5;font-weight:400;letter-spacing:-0.778px;right:590.60px;">7</span>
<span class="t" style="top:621.75px;font-size:10.2px;line-height:12px;color:#d2d2d5;font-weight:400;letter-spacing:-0.778px;left:183.00px;">12</span>
<span class="t" style="top:621.75px;font-size:10.4px;line-height:12px;color:#d2d2d5;font-weight:400;left:136.30px;width:600px;text-align:center;letter-spacing:-0.25px;">Фолы</span>
<span class="t" style="top:621.75px;font-size:10.2px;line-height:12px;color:#d2d2d5;font-weight:400;letter-spacing:-0.778px;right:590.60px;">4</span>
<span class="t" style="top:655.75px;font-size:10.2px;line-height:12px;color:#d2d2d5;font-weight:400;letter-spacing:-0.933px;left:183.00px;">40%</span>
<span class="t" style="top:655.75px;font-size:10.4px;line-height:12px;color:#d2d2d5;font-weight:400;left:136.30px;width:600px;text-align:center;letter-spacing:-0.25px;">Владение</span>
<span class="t" style="top:655.75px;font-size:10.2px;line-height:12px;color:#d2d2d5;font-weight:400;letter-spacing:-0.933px;right:590.60px;">60%</span>
<span class="t" style="top:458.75px;font-size:10.3px;line-height:12px;color:#22c968;font-weight:700;letter-spacing:-0.356px;left:723.80px;">ПОЛОЖИТЕЛЬНЫЕ СТОРОНЫ</span>
<span class="t" style="top:478.75px;font-size:10.8px;line-height:13px;color:#20ba63;font-weight:400;letter-spacing:0.192px;left:746.00px;">Рады интересной игре команды.</span>
<span class="t" style="top:496.75px;font-size:10.8px;line-height:13px;color:#20ba63;font-weight:400;letter-spacing:0.149px;left:746.00px;">В восторге от качества завершения атак.</span>
<span class="t" style="top:514.75px;font-size:10.8px;line-height:13px;color:#20ba63;font-weight:400;letter-spacing:0.198px;left:746.00px;">Довольны отличным владением мяча.</span>
<span class="t" style="top:532.75px;font-size:10.8px;line-height:13px;color:#20ba63;font-weight:400;letter-spacing:0.153px;left:746.00px;">Мы довольны тем, как команда действовала в финальной трети, особенно учитывая тот факт,</span>
<span class="t" style="top:545.75px;font-size:10.8px;line-height:13px;color:#20ba63;font-weight:400;letter-spacing:0.090px;left:746.00px;">чтобы мы хотим играть в атакующий футбол.</span>
<span class="t" style="top:581.75px;font-size:10.3px;line-height:12px;color:#f0614b;font-weight:700;letter-spacing:-0.406px;left:723.80px;">ОТРИЦАТЕЛЬНЫЕ СТОРОНЫ</span>
</div></body></html>
